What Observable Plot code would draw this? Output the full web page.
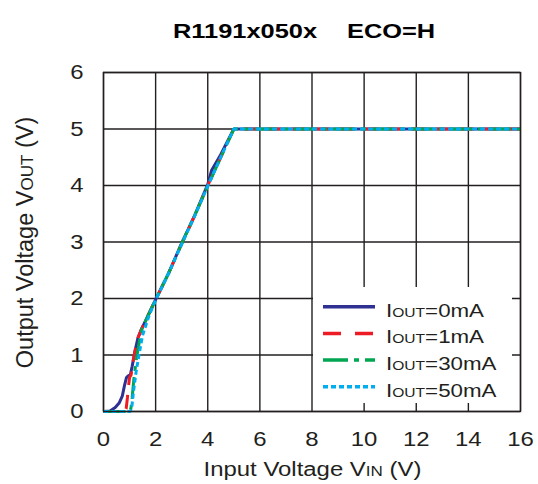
<!DOCTYPE html>
<html><head><meta charset="utf-8">
<script src="https://cdn.jsdelivr.net/npm/d3@7"></script>
<script src="https://cdn.jsdelivr.net/npm/@observablehq/plot@0.6"></script>
<style>
body{margin:0;background:#fff}
#c{position:relative;width:538px;height:484px}
svg{font-family:"Liberation Sans",Arial,sans-serif}
</style>
</head><body><div id="c"></div>
<script>
// Input voltage (V) and output voltage (V) for each load current
const vin0  = [0,0.25,0.45,0.6,0.72,0.8,0.88,0.95,1.03,1.1,1.2,1.32,1.45,2,2.5,3,3.5,4,4.15,4.5,5,16];
const vout0 = [0,0.01,0.07,0.15,0.27,0.45,0.6,0.63,0.65,0.8,1.05,1.3,1.45,1.98,2.45,2.98,3.47,4.02,4.27,4.55,5,5];
const vin1  = [0,0.8,0.87,0.92,0.96,1.0,1.06,1.12,1.2,1.32,1.45,2,2.5,3,3.5,4,4.5,5,16];
const vout1 = [0,0,0.05,0.25,0.45,0.6,0.65,0.85,1.05,1.3,1.45,1.98,2.45,2.97,3.47,4.0,4.5,5,5];
const vin30  = [0,1.0,1.05,1.1,1.17,1.27,1.38,1.48,2,2.5,3,3.5,4,4.5,5,16];
const vout30 = [0,0,0.05,0.25,0.6,0.95,1.25,1.47,1.98,2.45,2.97,3.47,3.99,4.5,5,5];
const vin50  = [0,1.02,1.08,1.15,1.25,1.38,1.5,1.75,2,2.5,3,3.5,4,4.5,5,16];
const vout50 = [0,0,0.05,0.35,0.7,1.05,1.35,1.7,1.97,2.45,2.96,3.46,3.99,4.5,5,5];

const seriesNames = ["0mA","1mA","30mA","50mA"];
const seriesColors = ["#2E3192","#ED1C24","#00A651","#00AEEF"];
const seriesDash = [null,"14,10","22,6,5,6","5,3"];
const xTicks = [0,2,4,6,8,10,12,14,16];
const yTicks = [0,1,2,3,4,5,6];

const xs = [vin0,vin1,vin30,vin50], ys = [vout0,vout1,vout30,vout50];
const rows = seriesNames.map((n,k)=>xs[k].map((x,i)=>({x, y: ys[k][i], k: n})));

const ink = "#231F20";
const svg = Plot.plot({
  width: 538, height: 484,
  marginLeft: 103, marginRight: 18, marginTop: 72, marginBottom: 73,
  style: {fontSize: "21px", fontFamily: "'Liberation Sans', Arial, sans-serif", color: ink, background: "#fff"},
  x: {domain: [0,16], ticks: xTicks, tickFormat: d => String(d), tickSize: 0, tickPadding: 20, label: null},
  y: {domain: [0,6], ticks: yTicks, tickFormat: d => String(d), tickSize: 0, tickPadding: 20, label: null},
  marks: [
    Plot.gridX(xTicks, {stroke: ink, strokeOpacity: 1, strokeWidth: 1.4}),
    Plot.gridY(yTicks, {stroke: ink, strokeOpacity: 1, strokeWidth: 1.4}),
    ...rows.map((r,k)=>Plot.line(r, {x: "x", y: "y", stroke: seriesColors[k], strokeWidth: 3, strokeDasharray: seriesDash[k], strokeLinejoin: "miter", strokeLinecap: "butt"})),
    Plot.frame({stroke: ink, strokeWidth: 1.4})
  ]
});
document.getElementById("c").appendChild(svg);

svg.querySelectorAll('g[aria-label="x-axis tick label"] text, g[aria-label="y-axis tick label"] text').forEach(el=>{
  const t = el.getAttribute("transform") || "";
  el.setAttribute("transform", `${t} scale(1.14,1)`);
});
svg.querySelectorAll('g[aria-label="x-axis tick label"], g[aria-label="y-axis tick label"]').forEach(g=>g.setAttribute("fill", ink));

const S = d3.select(svg);
// Title
const title = S.append("text").attr("transform","translate(173,37.5) scale(1.21,1)")
  .attr("text-anchor","start").attr("font-size",21).attr("font-weight","bold").attr("fill","#000");
title.append("tspan").attr("x",0).text("R1191x050x");
title.append("tspan").attr("x",(347-173)/1.21).text("ECO=H");

// X axis label
const xl = S.append("text").attr("transform","translate(312.5,476) scale(1.14,1)")
  .attr("text-anchor","middle").attr("font-size",21).attr("fill",ink);
xl.append("tspan").text("Input Voltage V");
xl.append("tspan").attr("font-size",15).text("IN");
xl.append("tspan").text(" (V)");

// Y axis label
const yl = S.append("text").attr("transform","translate(33,242.5) rotate(-90)")
  .attr("text-anchor","middle").attr("font-size",23.5).attr("fill",ink);
yl.append("tspan").text("Output Voltage V");
yl.append("tspan").attr("font-size",17).text("OUT");
yl.append("tspan").text(" (V)");

// Legend
S.append("rect").attr("x",313).attr("y",287).attr("width",199).attr("height",116).attr("fill","#fff");
seriesNames.forEach((n,i)=>{
  const ly = 306.7 + 26.7*i;
  S.append("line").attr("x1",323).attr("x2",375).attr("y1",ly).attr("y2",ly)
    .attr("stroke",seriesColors[i]).attr("stroke-width",3.5)
    .attr("stroke-dasharray", i===1 ? "18,14" : i===2 ? "25,6,5,6" : i===3 ? "5,3" : null);
  const t = S.append("text").attr("transform",`translate(386,${ly+10}) scale(1.2,1)`)
    .attr("text-anchor","start").attr("font-size",18.6).attr("fill",ink);
  t.append("tspan").text("I");
  t.append("tspan").attr("font-size",13).text("OUT");
  t.append("tspan").text("=" + n);
});
</script>
</body></html>
